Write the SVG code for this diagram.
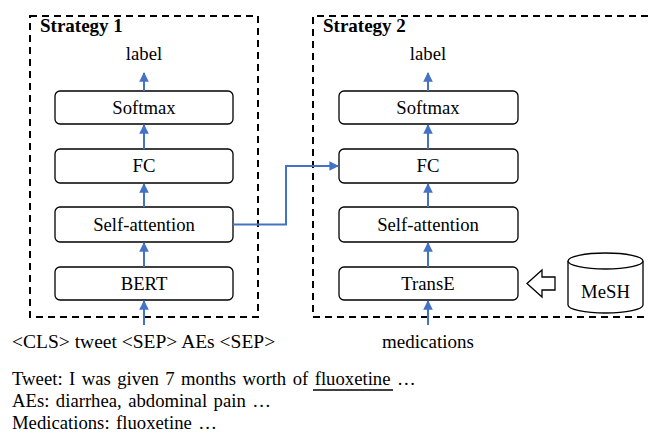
<svg xmlns="http://www.w3.org/2000/svg" width="648" height="434" viewBox="0 0 648 434" font-family="'Liberation Serif', 'Times New Roman', 'DejaVu Serif', serif">
<style>
text{font-family:"Liberation Serif","Times New Roman","DejaVu Serif",serif;fill:#000}
.t{font-size:18.7px;text-anchor:middle}
.h{font-size:19px;font-weight:bold}
.b{font-size:18.7px}
.box{fill:#fff;stroke:#000;stroke-width:1.3}
.dash{fill:none;stroke:#000;stroke-width:2;stroke-dasharray:7 5}
.arr{fill:none;stroke:#4472C4;stroke-width:2;marker-end:url(#ah)}
</style>
<defs>
<marker id="ah" viewBox="0 0 10 10" refX="9" refY="5" markerWidth="4.8" markerHeight="4.8" orient="auto" markerUnits="strokeWidth">
<path d="M0,0 L10,5 L0,10 z" fill="#4472C4"/>
</marker>
</defs>
<rect fill="#fff" x="0" y="0" width="648" height="434"/>
<g id="strategy1">
<rect class="dash" x="30" y="16" width="228" height="301"/>
<text class="h" x="40" y="32">Strategy 1</text>
<text class="t" x="144" y="60">label</text>
</g>
<g id="strategy2">
<path class="dash" d="M660,16 H313 V317 H660"/>
<text class="h" x="323" y="32">Strategy 2</text>
<text class="t" x="428" y="60">label</text>
</g>
<g id="softmax1"><rect class="box" x="55" y="91" width="178" height="33" rx="5"/><text class="t" x="144" y="114">Softmax</text></g>
<g id="fc1"><rect class="box" x="55" y="149" width="178" height="34" rx="5"/><text class="t" x="144" y="172">FC</text></g>
<g id="selfatt1"><rect class="box" x="55" y="207" width="178" height="35" rx="5"/><text class="t" x="144" y="231">Self-attention</text></g>
<g id="bert"><rect class="box" x="55" y="267" width="178" height="33" rx="5"/><text class="t" x="144" y="290">BERT</text></g>
<g id="softmax2"><rect class="box" x="339" y="91" width="179" height="33" rx="5"/><text class="t" x="428" y="114">Softmax</text></g>
<g id="fc2"><rect class="box" x="339" y="149" width="179" height="34" rx="5"/><text class="t" x="428" y="172">FC</text></g>
<g id="selfatt2"><rect class="box" x="339" y="207" width="179" height="35" rx="5"/><text class="t" x="428" y="231">Self-attention</text></g>
<g id="transe"><rect class="box" x="339" y="267" width="179" height="33" rx="5"/><text class="t" x="428" y="290">TransE</text></g>
<g id="mesh">
<path class="box" d="M568,261 V305 A37.5,8 0 0 0 643,305 V261"/>
<ellipse class="box" cx="605.5" cy="261" rx="37.5" ry="8"/>
<text class="t" x="605.5" y="298">MeSH</text>
</g>
<g id="hollow-arrow">
<path class="box" d="M527,283.5 L542,270 V277 H555 V290 H542 V297 Z"/>
</g>
<g id="connectors">
<line class="arr" x1="144" y1="91" x2="144" y2="73"/>
<line class="arr" x1="144" y1="149" x2="144" y2="125"/>
<line class="arr" x1="144" y1="207" x2="144" y2="184"/>
<line class="arr" x1="144" y1="267" x2="144" y2="243"/>
<line class="arr" x1="144" y1="325" x2="144" y2="301"/>
<line class="arr" x1="428" y1="91" x2="428" y2="73"/>
<line class="arr" x1="428" y1="149" x2="428" y2="125"/>
<line class="arr" x1="428" y1="207" x2="428" y2="184"/>
<line class="arr" x1="428" y1="267" x2="428" y2="243"/>
<line class="arr" x1="428" y1="325" x2="428" y2="301"/>
<path class="arr" d="M233,224.5 H286 V166 H338"/>
</g>
<g id="inputs">
<text x="12" y="348" style="font-size:19.5px">&lt;CLS&gt; tweet &lt;SEP&gt; AEs &lt;SEP&gt;</text>
<text class="t" x="428" y="348" style="font-size:19px">medications</text>
</g>
<g id="example">
<text class="b" x="12" y="385" word-spacing="1.8">Tweet: I was given 7 months worth of fluoxetine …</text>
<line x1="313" y1="390" x2="393" y2="390" stroke="#000" stroke-width="1.3"/>
<text class="b" x="12" y="407" word-spacing="1.8">AEs: diarrhea, abdominal pain …</text>
<text class="b" x="12" y="429" word-spacing="1.8">Medications: fluoxetine …</text>
</g>
</svg>
